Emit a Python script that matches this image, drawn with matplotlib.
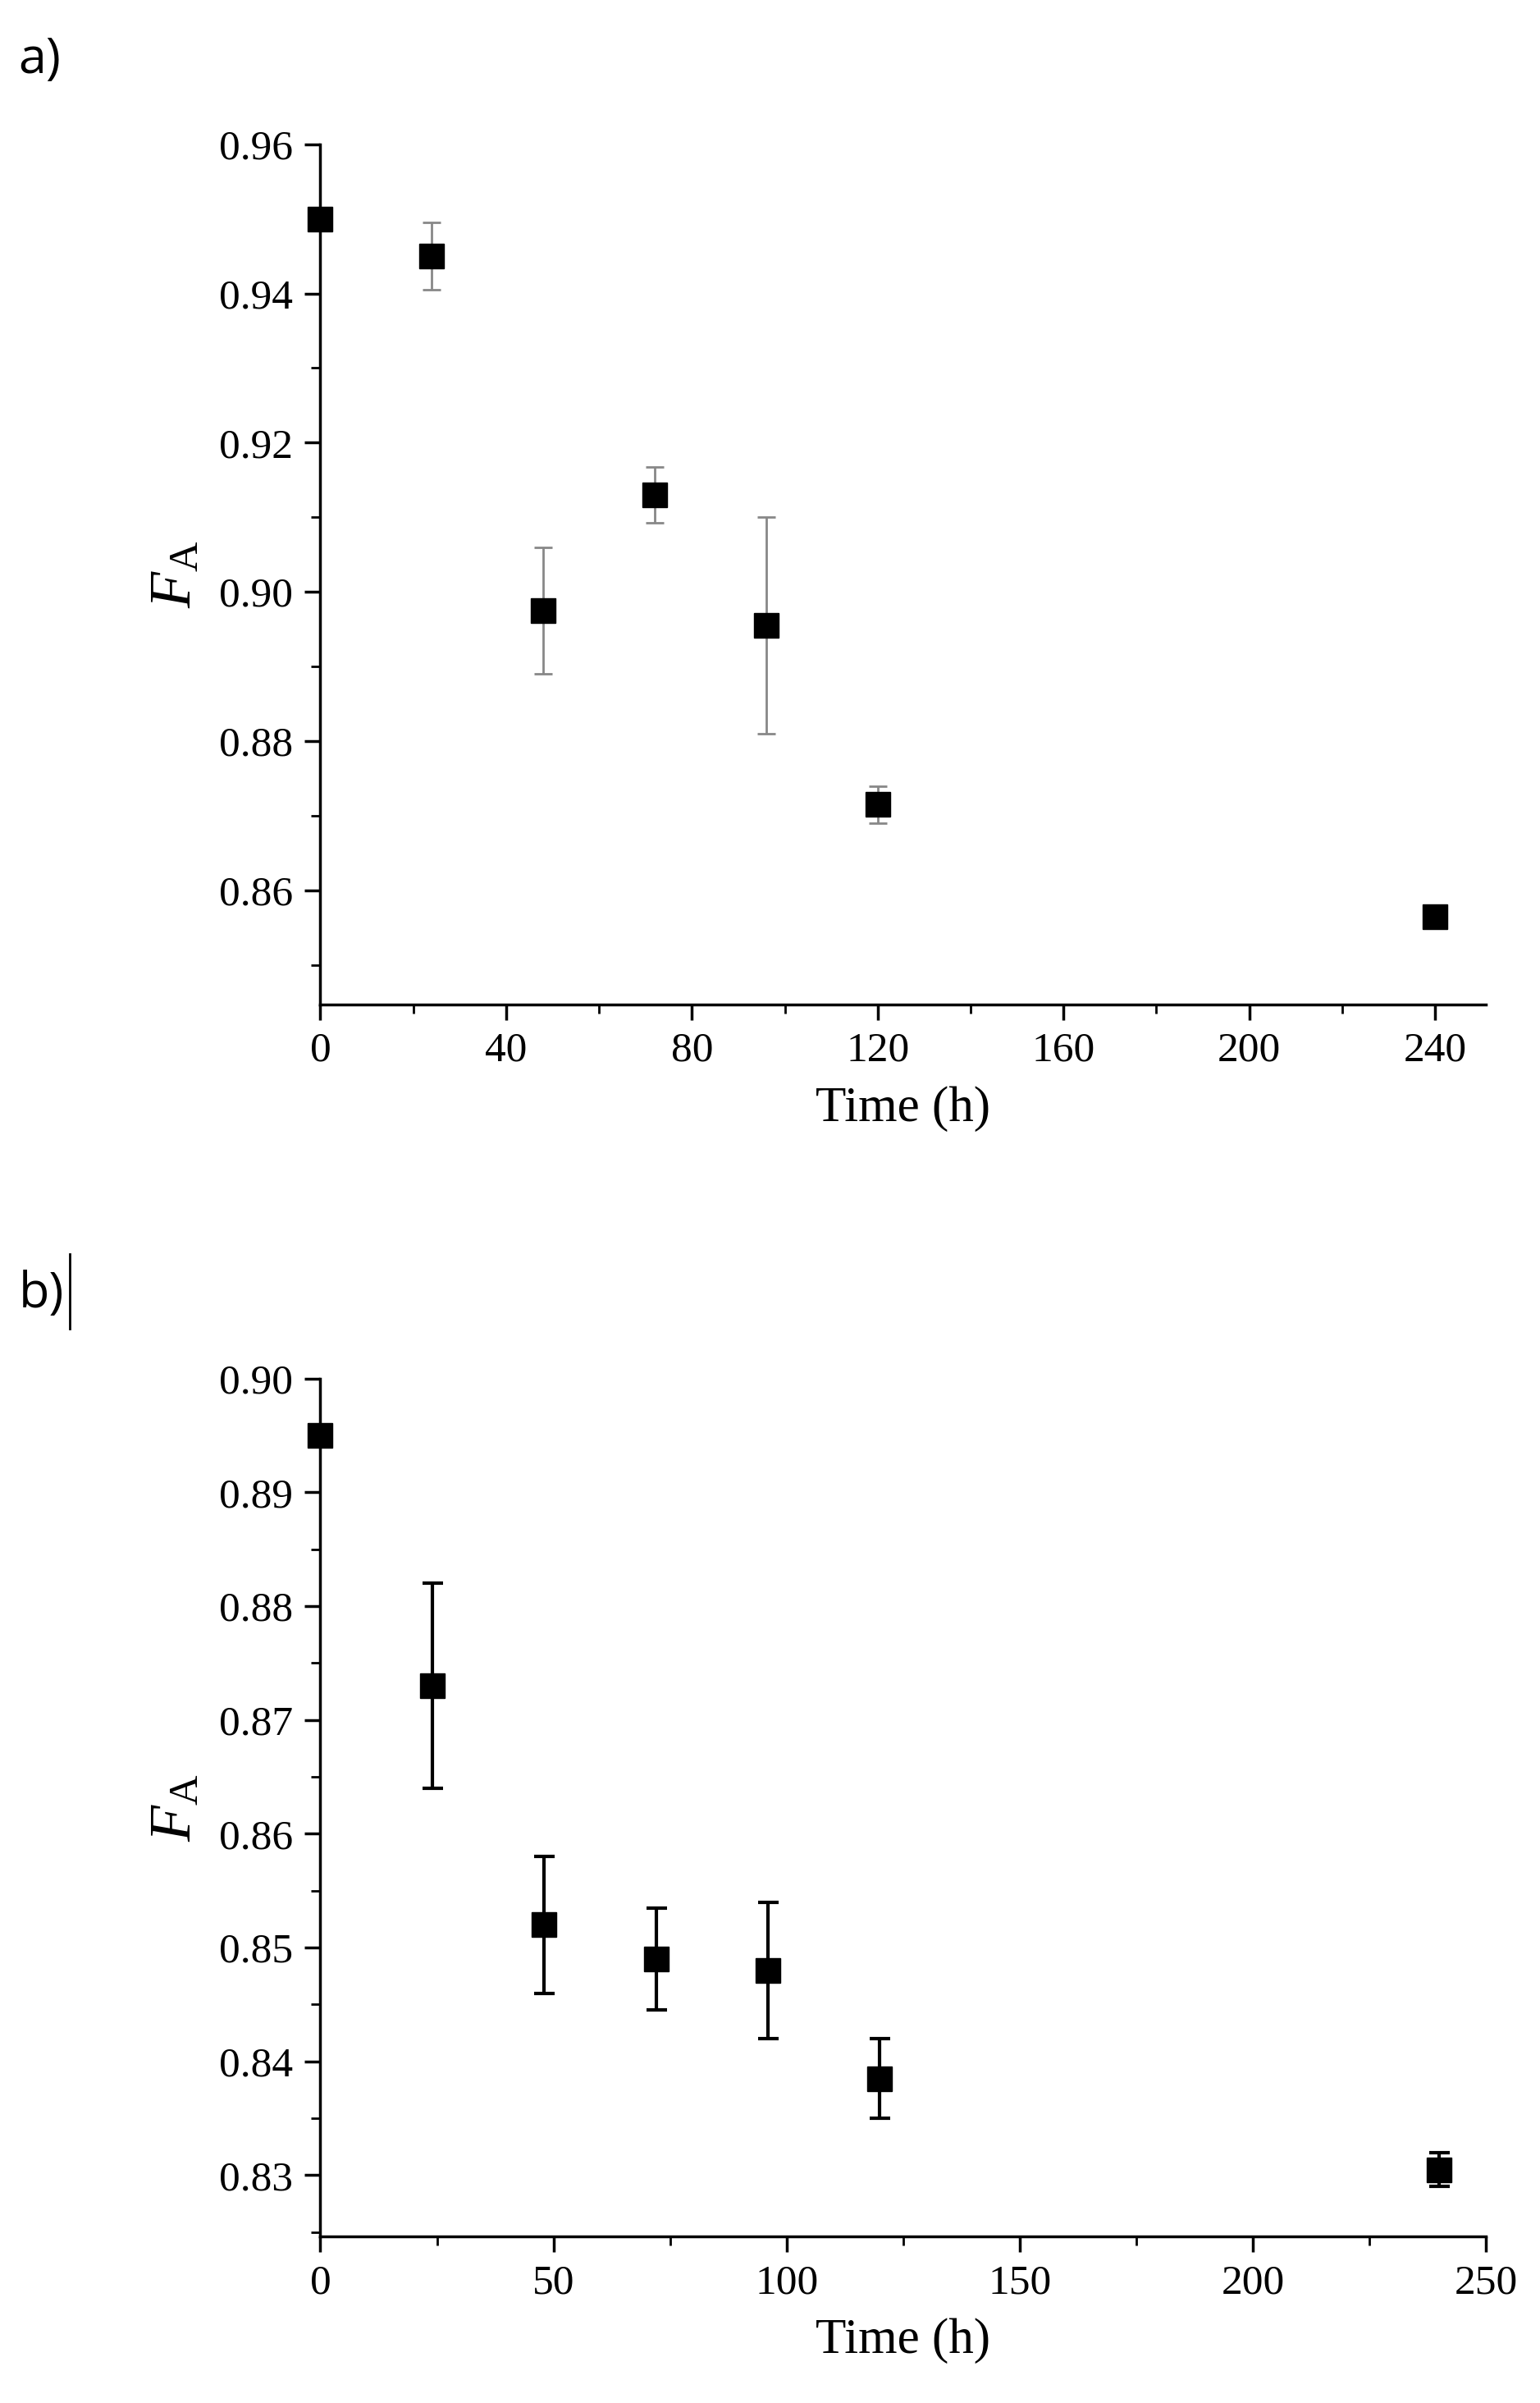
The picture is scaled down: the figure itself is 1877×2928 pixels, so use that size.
import matplotlib
matplotlib.use("Agg")
import matplotlib.pyplot as plt
from matplotlib.ticker import MultipleLocator

time_a = [0, 24, 48, 72, 96, 120, 240]
fa_a = [0.950, 0.945, 0.8975, 0.913, 0.8955, 0.8715, 0.8565]
err_a = [0.0, 0.0045, 0.0085, 0.0037, 0.0145, 0.0025, 0.001]

time_b = [0, 24, 48, 72, 96, 120, 240]
fa_b = [0.895, 0.873, 0.852, 0.849, 0.848, 0.8385, 0.8305]
err_b = [0.0, 0.009, 0.006, 0.0045, 0.006, 0.0035, 0.0015]

plt.rcParams['font.family'] = ['Liberation Serif', 'DejaVu Serif']
plt.rcParams['mathtext.fontset'] = 'custom'
plt.rcParams['mathtext.rm'] = 'Liberation Serif'
plt.rcParams['mathtext.it'] = 'Liberation Serif:italic'
fig = plt.figure(figsize=(18.77, 29.28), dpi=100)

def setup(ax, xlim, ylim, xmaj, xmin, ymaj, ymin, fmt):
    ax.set_xlim(*xlim); ax.set_ylim(*ylim)
    for s in ['top', 'right']:
        ax.spines[s].set_visible(False)
    for s in ['left', 'bottom']:
        ax.spines[s].set_linewidth(2.5)
    ax.xaxis.set_major_locator(MultipleLocator(xmaj))
    ax.xaxis.set_minor_locator(MultipleLocator(xmin))
    ax.yaxis.set_major_locator(MultipleLocator(ymaj))
    ax.yaxis.set_minor_locator(MultipleLocator(ymin))
    ax.yaxis.set_major_formatter(plt.FormatStrFormatter(fmt))
    ax.tick_params(which='major', direction='out', length=14, width=2.5, labelsize=37, pad=10)
    ax.tick_params(which='minor', direction='out', length=8, width=2)
    ax.set_xlabel('Time (h)', fontsize=44, labelpad=14)
    ax.set_ylabel(r'$F_{\mathrm{A}}$', fontsize=52, labelpad=14)

ax1 = fig.add_axes([0.208, 0.582, 0.757, 0.358])
ax1.errorbar(time_a, fa_a, yerr=err_a, fmt='s', color='black', ms=22,
             ecolor='#888888', elinewidth=2, capsize=8, capthick=2, clip_on=False, zorder=3)
setup(ax1, (0, 251), (0.8447, 0.96), 40, 20, 0.02, 0.01, '%.2f')
ax1.set_xticks([0, 40, 80, 120, 160, 200, 240])

ax2 = fig.add_axes([0.208, 0.0692, 0.757, 0.3571])
ax2.errorbar(time_b, fa_b, yerr=err_b, fmt='s', color='black', ms=22,
             ecolor='black', elinewidth=3, capsize=9, capthick=3, clip_on=False, zorder=3)
setup(ax2, (0, 250), (0.8246, 0.90), 50, 25, 0.01, 0.005, '%.2f')

fig.text(0.012, 0.975, 'a)', fontsize=44, family=['Open Sans', 'DejaVu Sans'], va='center')
fig.text(0.012, 0.4615, 'b)', fontsize=44, family=['Open Sans', 'DejaVu Sans'], va='center')
fig.add_artist(plt.Line2D([0.0455, 0.0455], [0.447, 0.478], color='black', lw=2, transform=fig.transFigure))

fig.savefig('out.png', dpi=100)
